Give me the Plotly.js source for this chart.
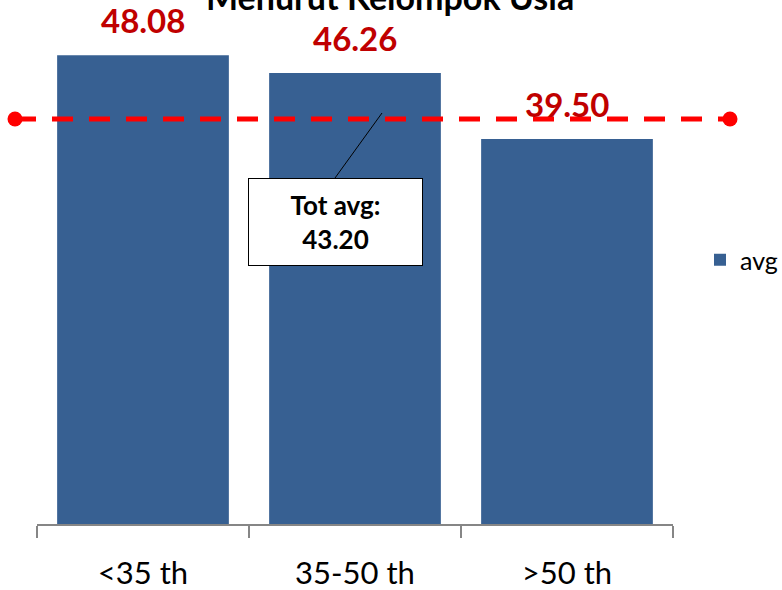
<!DOCTYPE html>
<html><head><meta charset="utf-8">
<script src="https://cdn.plot.ly/plotly-3.0.1.min.js"></script>
<style>html,body{margin:0;padding:0;background:#fff}#chart{width:782px;height:590px}</style>
</head><body><div id="chart"></div>
<script>
// ---- data ----
const categories = ['<35 th', '35-50 th', '>50 th'];
const avgValues = [48.08, 46.26, 39.50];
const seriesName = 'avg';
const totalAvg = 43.20;
const totalAvgLabel = 'Tot avg:';
const chartTitle = 'Menurut Kelompok Usia';
const avgLineX = [0, 1];
const avgLineY = [totalAvg, totalAvg];

// ---- layout helpers ----
const W = 782, H = 590;
const margin = {l: 15, r: 52, t: 10, b: 66, pad: 0, autoexpand: false};
const plotW = W - margin.l - margin.r;   // 715
const plotH = H - margin.t - margin.b;   // 514
const pxPerUnit = 9.75;
const yMax = plotH / pxPerUnit;
const y2Max = totalAvg * plotH / 405;
const xDom = [22 / plotW, 658 / plotW];

const barColor = '#376092';
const labelRed = '#C00000';
const lineRed = '#FF0000';
const fontFam = 'Lato, "Open Sans", sans-serif';

const traces = [
  {
    type: 'bar', name: seriesName, x: categories, y: avgValues,
    marker: {color: barColor}, xaxis: 'x', yaxis: 'y', hoverinfo: 'none',
    showlegend: true
  },
  {
    type: 'scatter', mode: 'lines+markers', x: avgLineX, y: avgLineY,
    xaxis: 'x2', yaxis: 'y2', showlegend: false, cliponaxis: false, hoverinfo: 'none',
    line: {color: lineRed, width: 5, dash: '21px,16px'},
    marker: {color: lineRed, size: 15}
  }
];

const annotations = avgValues.map((v, i) => ({
  x: categories[i], y: v, xref: 'x', yref: 'y',
  text: '<b>' + v.toFixed(2) + '</b>', showarrow: false,
  yanchor: 'bottom', yshift: 13,
  font: {family: fontFam, size: 33, color: labelRed}
}));

annotations.push({
  xref: 'paper', yref: 'paper', x: (390 - margin.l) / plotW, y: 1, yanchor: 'bottom', yshift: -9,
  text: '<b>' + chartTitle + '</b>', showarrow: false,
  font: {family: fontFam, size: 34, color: '#000'}
});

annotations.push({
  xref: 'x2', yref: 'y2', x: (382 - margin.l) / plotW, y: totalAvg, yshift: 6,
  text: '<b>' + totalAvgLabel + '<br>' + totalAvg.toFixed(2) + '</b>',
  showarrow: true, arrowhead: 0, arrowwidth: 1, arrowcolor: '#000',
  ax: -47, ay: 65, xanchor: 'center', yanchor: 'top',
  bgcolor: '#fff', bordercolor: '#000', borderwidth: 1, borderpad: 0,
  width: 173, height: 86,
  font: {family: fontFam, size: 26, color: '#000'}
});

const layout = {
  width: W, height: H, margin: margin,
  paper_bgcolor: '#fff', plot_bgcolor: 'rgba(0,0,0,0)',
  font: {family: fontFam, color: '#000'},
  showlegend: true,
  legend: {
    x: (700 - margin.l) / plotW, y: (524 - 260) / plotH, xanchor: 'left', yanchor: 'middle',
    font: {family: fontFam, size: 25, color: '#000'}, bgcolor: 'rgba(0,0,0,0)'
  },
  bargap: 0.19,
  xaxis: {
    domain: xDom, type: 'category', range: [-0.5, 2.5], anchor: 'y',
    showline: true, linecolor: '#868686', linewidth: 1.5,
    ticks: 'outside', tickson: 'boundaries', ticklen: 12, tickcolor: '#868686', tickwidth: 1.5,
    tickfont: {family: fontFam, size: 31, color: '#000'}, ticklabelstandoff: 21,
    showgrid: false, zeroline: false, fixedrange: true
  },
  yaxis: {
    domain: [0, 1], range: [0, yMax], anchor: 'x', visible: false, fixedrange: true
  },
  xaxis2: {domain: [0, 1], range: [0, 1], anchor: 'y2', visible: false, fixedrange: true},
  yaxis2: {domain: [0, 1], range: [0, y2Max], anchor: 'x2', visible: false, fixedrange: true},
  annotations: annotations
};

Plotly.newPlot('chart', traces, layout, {displayModeBar: false, staticPlot: true});
</script>
</body></html>
